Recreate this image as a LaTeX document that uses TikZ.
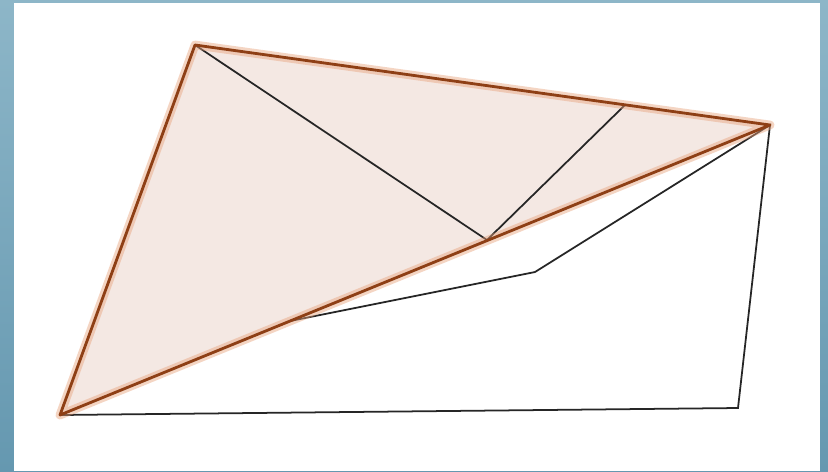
\documentclass[tikz,border=0pt]{standalone}
\usepackage{xcolor}
\usepackage{tikz}
\definecolor{FrameBlue}{HTML}{6598B0}
\definecolor{FrameLight}{HTML}{8DB6C8}
\definecolor{TriFill}{HTML}{F4E8E3}
\definecolor{TriEdge}{HTML}{8E3F15}
\definecolor{TriGlow}{HTML}{E8A27C}
\tikzset{
  edge/.style={line width=1pt,black!85},
  rim/.style={line width=1.6pt,TriEdge,line join=round},
  glow/.style={line width=5pt,TriGlow,opacity=0.45,line join=round}
}
\begin{document}
\begin{tikzpicture}[x=0.02cm,y=-0.02cm]
\path[use as bounding box] (0,0) rectangle (828,471);
\shade[top color=FrameLight,bottom color=FrameBlue] (0,0) rectangle (828,471);
\fill[white] (14,3) rectangle (820,471);
% corners of the quadrilateral
\coordinate (A) at (195,45);
\coordinate (B) at (770,125);
\coordinate (C) at (60,415);
\coordinate (F) at (738,408);
\coordinate (G) at (535,272);
\coordinate (H) at (290,321);
\coordinate (D) at (487,240);
\coordinate (E) at (625,105);
% shaded triangle
\fill[TriFill] (A) -- (B) -- (C) -- cycle;
\draw[edge] (C) -- (F) -- (B) -- (G) -- (H);
\draw[edge] (A) -- (D) -- (E);
\draw[glow] (A) -- (B) -- (C) -- cycle;
\draw[rim] (A) -- (B) -- (C) -- cycle;
\end{tikzpicture}
\end{document}
